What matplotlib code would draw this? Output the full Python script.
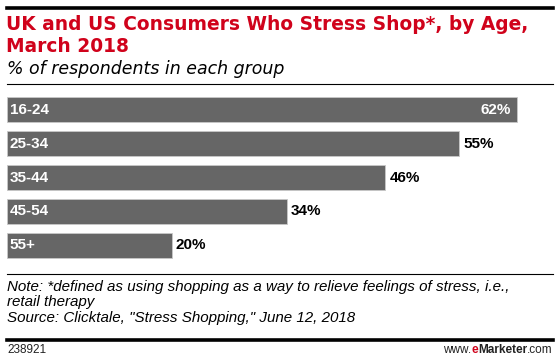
import matplotlib.pyplot as plt
from matplotlib.lines import Line2D

# --- data ---
ages = ["16-24", "25-34", "35-44", "45-54", "55+"]
shares = [62, 55, 46, 34, 20]

title = "UK and US Consumers Who Stress Shop*, by Age,\nMarch 2018"
subtitle = "% of respondents in each group"
note = ("Note: *defined as using shopping as a way to relieve feelings of stress, i.e.,\n"
        "retail therapy\n"
        "Source: Clicktale, \"Stress Shopping,\" June 12, 2018")
chart_id = "238921"

W, H = 560, 358
plt.rcParams['font.family'] = ['Liberation Sans', 'DejaVu Sans']

fig = plt.figure(figsize=(W / 100, H / 100), dpi=100)
fig.patch.set_facecolor("white")


def px(x, y):
    return x / W, 1 - y / H


def hline(y, lw, x0=7, x1=553):
    a, b = px(x0, y)
    c, _ = px(x1, y)
    fig.add_artist(Line2D([a, c], [b, b], color="black", lw=lw, transform=fig.transFigure))


# header rules and text
hline(7.5, 2.6)
fig.text(*px(6, 15.5), title, color="#d0021b", fontsize=13.4, fontweight="bold",
         family="DejaVu Sans", va="top", ha="left", linespacing=1.2)
fig.text(*px(7, 60), subtitle, color="black", fontsize=12.5, style="italic",
         family="DejaVu Sans", va="top", ha="left")
hline(84, 0.8)

# bars
ax = fig.add_axes([7 / W, 1 - 262 / H, 546 / W, 169 / H])
y = list(range(len(ages)))
ax.barh(y, shares, height=0.74, color="#666666", edgecolor="#c8c8c8", linewidth=0.6)
ax.set_xlim(0, 546 / 8.226)
ax.set_ylim(len(ages) - 0.5, -0.5)
ax.axis("off")

for i, (lab, v) in enumerate(zip(ages, shares)):
    ax.text(0.36, i, lab, color="white", fontsize=11, fontweight="bold",
            va="center", ha="left")
    if i == 0:
        ax.text(v - 0.7, i, f"{v}%", color="white", fontsize=11, fontweight="bold",
                va="center", ha="right")
    else:
        ax.text(v + 0.5, i, f"{v}%", color="black", fontsize=11, fontweight="bold",
                va="center", ha="left")

# footer
hline(274, 0.8)
fig.text(*px(7, 279.5), note, color="black", fontsize=10.9, style="italic",
         va="top", ha="left", linespacing=1.15)
hline(339.5, 2.6)
fig.text(*px(7, 350), chart_id, color="#222222", fontsize=8.5, va="center", ha="left")

# logo: pieces placed right to left
renderer = fig.canvas.get_renderer()
pieces = [(".com", "normal", "#222222"), ("Marketer", "bold", "#222222"),
          ("e", "bold", "#d0021b"), ("www.", "normal", "#222222")]
xr = 553
for s, w, c in pieces:
    t = fig.text(*px(xr, 350), s, color=c, fontsize=8.5, fontweight=w,
                 va="center", ha="right")
    bb = t.get_window_extent(renderer)
    xr -= bb.width

plt.savefig("out.png", dpi=100)
